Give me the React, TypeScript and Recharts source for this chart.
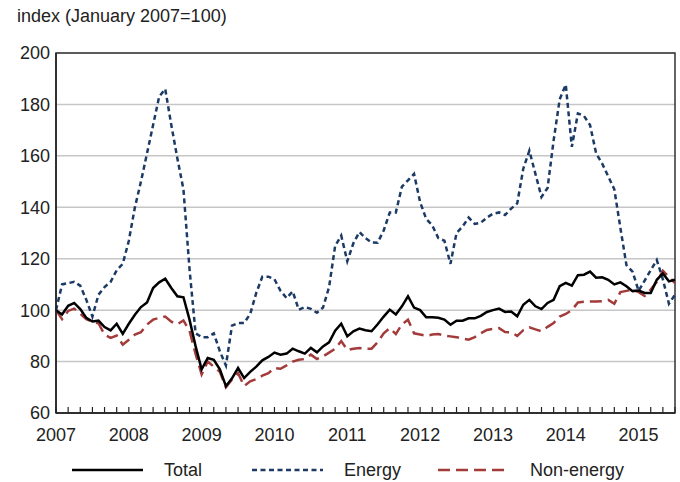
import React from "react";
import { LineChart, Line, XAxis, YAxis, CartesianGrid, ReferenceArea } from "recharts";

// monthly, Jan 2007 .. Jul 2015 (index 0..102)
const YEARS = ["2007", "2008", "2009", "2010", "2011", "2012", "2013", "2014", "2015"];

const TOTAL = [
  100, 98.3, 101.7, 102.8, 100.4, 97, 95.6, 95.9, 93.4, 92.1, 94.7, 90.8,
  94.7, 98.2, 101.2, 103, 108.6, 110.8, 112.2, 108.6, 105.4, 105, 96.3, 86,
  77, 81.4, 80.7, 77, 70.4, 73.5, 77.5, 73.6, 76, 78, 80.5, 81.8,
  83.5, 82.7, 83.1, 85, 84, 83.1, 85.3, 83.6, 85.9, 87.5, 92, 94.7,
  89.8, 91.8, 92.8, 92.2, 91.8, 94.5, 97.5, 100.2, 98.3, 101.5, 105.4, 101,
  100, 97.2, 97.2, 97, 96.3, 94.3, 95.9, 95.9, 96.8, 96.8, 97.8, 99.3,
  100, 100.6, 99.3, 99.5, 97.6, 102.1, 104, 101.5, 100.4, 102.8, 104, 109.3,
  110.6, 109.5, 113.6, 113.8, 115, 112.6, 112.8, 111.8, 110, 110.8, 109.3, 107.4,
  107.6, 106.7, 106.7, 111.8, 114.3, 111.2, 111.8,
];

const ENERGY = [
  100, 110, 110.5, 111, 109.5, 104, 97.5, 106, 109, 111, 115.5, 118,
  127, 140, 150, 161, 172, 183, 186, 172, 159, 147, 116, 91,
  89.5, 89.5, 91, 84, 78.5, 94, 95, 95, 98.5, 106.7, 113, 113,
  112, 107.5, 104.7, 107.3, 100.2, 101.2, 100.5, 99, 101, 109, 125, 129,
  119, 126, 130.4, 128, 126.3, 126.2, 131, 138, 138, 148, 150.5, 153,
  142, 135.5, 133, 128, 127, 118, 130, 132.5, 136, 133.5, 134, 136,
  137.5, 138, 137, 139.5, 141.5, 155, 162, 153, 144, 147.5, 166, 182,
  187.7, 163.5, 176.5, 175.5, 172, 161, 157, 152, 147, 132, 117.5, 115,
  107.5, 111.5, 115.5, 119.5, 112, 102.5, 106,
];

const NON_ENERGY = [
  100, 96.5, 99.7, 100.6, 98.6, 96.5, 95.4, 94.9, 90.5, 89.2, 90.1, 86.6,
  88.5, 90.5, 91.4, 94.4, 96.3, 97, 97.5, 95.5, 94.5, 96, 92, 83,
  75, 80, 78, 76, 70, 73, 75.5, 70.5, 72.3, 73.2, 74.5, 75.5,
  77.5, 77.2, 78.5, 80, 80.7, 81, 82.7, 81, 82, 83.5, 85, 88,
  84.5, 85, 85.3, 85, 85, 87.5, 91, 93, 90.7, 94.5, 96.3, 91,
  90.5, 90, 90.5, 90.7, 90.1, 89.8, 89.5, 89, 88.5, 89.5, 91, 92.3,
  92.7, 93, 91.5, 91.4, 90, 92.2, 93.3, 92.5, 91.8, 93.5, 95, 97.5,
  98.5, 100, 103, 103.3, 103.4, 103.4, 103.5, 104, 102.5, 107, 107.5, 108,
  107, 105.5, 108, 111, 115.3, 113, 110.5,
];

const Y_TICKS = [60, 80, 100, 120, 140, 160, 180, 200];

const FONT = '"Liberation Sans", Arial, Helvetica, sans-serif';
const C_TOTAL = "#000000";
const C_ENERGY = "#1c3a66";
const C_NON = "#a33b3b";

const data = TOTAL.map((t, i) => ({
  m: i,
  total: t,
  energy: ENERGY[i],
  nonEnergy: NON_ENERGY[i],
}));

const xTicks = data.filter((d) => d.m % 2 === 0).map((d) => d.m);

const MonthTick = (props: any) => {
  const { x, y, payload } = props;
  const m = payload.value;
  return (
    <g>
      <line x1={x} x2={x} y1={y} y2={y - 6} stroke="#222" strokeWidth={1.2} />
      {m % 12 === 0 && (
        <text x={x} y={y + 28} textAnchor="middle" fontSize={18} fill="#222" fontFamily={FONT}>
          {YEARS[m / 12]}
        </text>
      )}
    </g>
  );
};

const LEGEND = [
  { label: "Total", color: C_TOTAL, dash: undefined, x: 72 },
  { label: "Energy", color: C_ENERGY, dash: "5 3.5", x: 252 },
  { label: "Non-energy", color: C_NON, dash: "12 6", x: 438 },
];

export default function App() {
  return (
    <div style={{ position: "absolute", left: 0, top: 0, width: 680, height: 482, background: "#fff", fontFamily: FONT }}>
      <div style={{ position: "absolute", left: 17, top: 6, fontSize: 18, color: "#222", whiteSpace: "nowrap" }}>
        index (January 2007=100)
      </div>
      <LineChart width={680} height={482} data={data} margin={{ top: 53, right: 5, bottom: 39, left: 0 }}>
        <CartesianGrid horizontal vertical={false} stroke="#c6c6c6" strokeWidth={1.5} />
        <XAxis
          dataKey="m"
          type="number"
          domain={[0, 102]}
          ticks={xTicks}
          interval={0}
          height={30}
          tickSize={0}
          tickMargin={0}
          tickLine={false}
          axisLine={{ stroke: "#222", strokeWidth: 1.5 }}
          tick={<MonthTick />}
        />
        <YAxis
          domain={[60, 200]}
          ticks={Y_TICKS}
          width={56}
          tickSize={0}
          tickMargin={6}
          tickLine={false}
          axisLine={{ stroke: "#222", strokeWidth: 1.5 }}
          tick={{ fill: "#222", fontSize: 18, fontFamily: FONT }}
        />
        <ReferenceArea x1={0} x2={102} y1={60} y2={200} fill="none" stroke="#333" strokeWidth={1.5} ifOverflow="visible" />
        <Line dataKey="nonEnergy" stroke={C_NON} strokeWidth={2.5} strokeDasharray="12 6" dot={false} isAnimationActive={false} />
        <Line dataKey="energy" stroke={C_ENERGY} strokeWidth={2.5} strokeDasharray="5 3.5" dot={false} isAnimationActive={false} />
        <Line dataKey="total" stroke={C_TOTAL} strokeWidth={2.5} dot={false} isAnimationActive={false} />
      </LineChart>
      <svg width={680} height={30} style={{ position: "absolute", left: 0, top: 455 }}>
        {LEGEND.map((l) => (
          <g key={l.label}>
            <line x1={l.x} x2={l.x + 71} y1={15} y2={15} stroke={l.color} strokeWidth={2.5} strokeDasharray={l.dash} />
            <text x={l.x + 92} y={21} fontSize={18} fill="#222" fontFamily={FONT}>
              {l.label}
            </text>
          </g>
        ))}
      </svg>
    </div>
  );
}
